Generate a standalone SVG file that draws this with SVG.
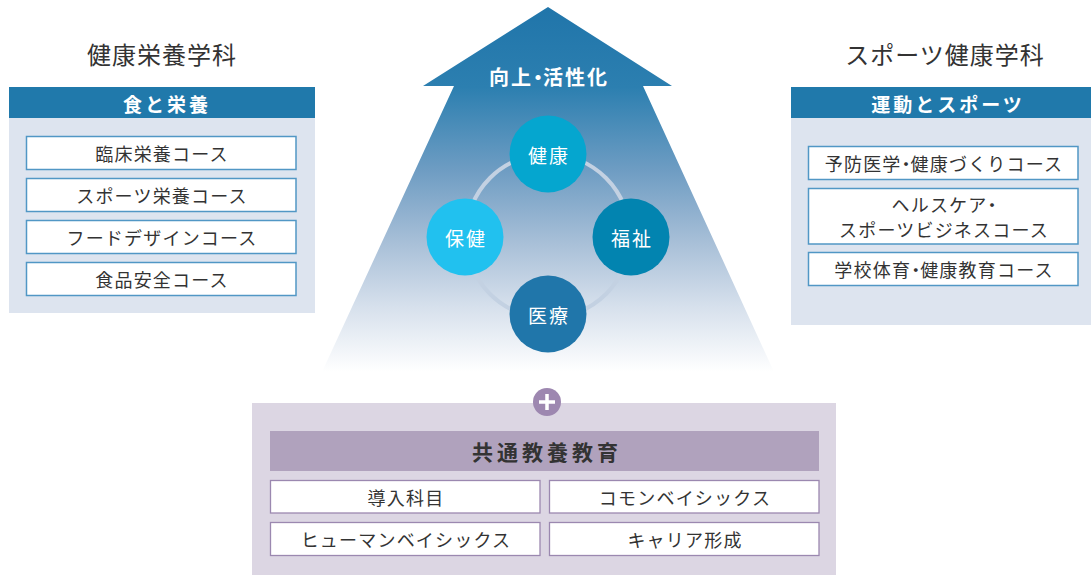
<svg xmlns="http://www.w3.org/2000/svg" width="1091" height="575" viewBox="0 0 1091 575">
<defs>
<linearGradient id="pyr" gradientUnits="userSpaceOnUse" x1="0" y1="7" x2="0" y2="372">
<stop offset="0" stop-color="#2075aa"/>
<stop offset="0.22" stop-color="#2c7fb0"/>
<stop offset="0.45" stop-color="#6f9dc3"/>
<stop offset="0.65" stop-color="#a9c0d8"/>
<stop offset="0.82" stop-color="#d6e0ec"/>
<stop offset="1" stop-color="#ffffff"/>
</linearGradient>
<style>
text{font-family:"Noto Sans CJK JP","Noto Sans",sans-serif;dominant-baseline:central;text-anchor:middle}
.title{font-size:24px;fill:#333;letter-spacing:1px}
.hdr{fill:#2079ab}
.hdrt{font-size:19px;font-weight:bold;fill:#fff;letter-spacing:3px}
.panel{fill:#dde4ef}
.box{fill:#fff;stroke:#5197c5;stroke-width:1.5}
.bt{font-size:18px;fill:#333;letter-spacing:1.2px}
.ct{font-size:19px;fill:#fff;letter-spacing:2px}
.pbox{fill:#fff;stroke:#9b88b0;stroke-width:1.3}
.dot{font-feature-settings:"palt";letter-spacing:0}
</style>
</defs>

<g id="pyramid">
<polygon points="548,7 672,86 643,86 774,372 322,372 454,86 423,86" fill="url(#pyr)"/>
<text x="549" y="76" style="font-size:20px;font-weight:bold;fill:#fff;letter-spacing:2px">向上<tspan class="dot">・</tspan>活性化</text>
</g>

<g id="connectors">
<circle cx="548" cy="236" r="82" fill="none" stroke="#c3d1e2" stroke-width="4"/>
</g>

<g id="node-kenko">
<circle cx="548" cy="154" r="38.5" fill="#05a6cf"/>
<text class="ct" x="549" y="154">健康</text>
</g>
<g id="node-hoken">
<circle cx="465" cy="237" r="38.5" fill="#21c1ef"/>
<text class="ct" x="466" y="237">保健</text>
</g>
<g id="node-fukushi">
<circle cx="631" cy="237" r="38.5" fill="#0284b0"/>
<text class="ct" x="632" y="237">福祉</text>
</g>
<g id="node-iryo">
<circle cx="548" cy="314" r="38.5" fill="#2076aa"/>
<text class="ct" x="549" y="314">医療</text>
</g>

<g id="left-dept">
<text class="title" x="162" y="53">健康栄養学科</text>
<rect class="panel" x="9" y="118" width="306" height="195"/>
<rect class="hdr" x="9" y="87" width="306" height="31"/>
<text class="hdrt" x="167" y="103">食と栄養</text>
<rect class="box" x="26.5" y="136.5" width="269.5" height="33"/>
<text class="bt" x="162" y="153">臨床栄養コース</text>
<rect class="box" x="26.5" y="178.5" width="269.5" height="33"/>
<text class="bt" x="162" y="195">スポーツ栄養コース</text>
<rect class="box" x="26.5" y="220.5" width="269.5" height="33"/>
<text class="bt" x="162" y="237">フードデザインコース</text>
<rect class="box" x="26.5" y="262.5" width="269.5" height="33"/>
<text class="bt" x="162" y="279">食品安全コース</text>
</g>

<g id="right-dept">
<text class="title" x="945" y="53">スポーツ健康学科</text>
<rect class="panel" x="791" y="118" width="300" height="207"/>
<rect class="hdr" x="791" y="87" width="300" height="31"/>
<text class="hdrt" x="948" y="103">運動とスポーツ</text>
<rect class="box" x="808.5" y="146.5" width="269.5" height="33"/>
<text class="bt" x="944" y="163">予防医学<tspan class="dot">・</tspan>健康づくりコース</text>
<rect class="box" x="808.5" y="188.5" width="269.5" height="55.5"/>
<text class="bt" x="944" y="204">ヘルスケア<tspan class="dot">・</tspan></text>
<text class="bt" x="944" y="229">スポーツビジネスコース</text>
<rect class="box" x="808.5" y="252.5" width="269.5" height="33"/>
<text class="bt" x="944" y="269">学校体育<tspan class="dot">・</tspan>健康教育コース</text>
</g>

<g id="common-edu">
<rect x="252" y="403" width="584" height="172" fill="#dcd6e3"/>
<circle cx="547" cy="402" r="14" fill="#9d87b0"/>
<path d="M539 402h16M547 394v16" stroke="#fff" stroke-width="3.5" fill="none"/>
<rect x="270" y="431" width="549" height="40" fill="#b0a2bd"/>
<text x="547" y="451" style="font-size:21px;font-weight:bold;fill:#333;letter-spacing:4px">共通教養教育</text>
<rect class="pbox" x="270.5" y="480.5" width="269.5" height="32.5"/>
<text class="bt" x="406" y="497">導入科目</text>
<rect class="pbox" x="549.5" y="480.5" width="269.5" height="32.5"/>
<text class="bt" x="685" y="497">コモンベイシックス</text>
<rect class="pbox" x="270.5" y="522.5" width="269.5" height="33"/>
<text class="bt" x="406" y="539">ヒューマンベイシックス</text>
<rect class="pbox" x="549.5" y="522.5" width="269.5" height="33"/>
<text class="bt" x="685" y="539">キャリア形成</text>
</g>
</svg>
